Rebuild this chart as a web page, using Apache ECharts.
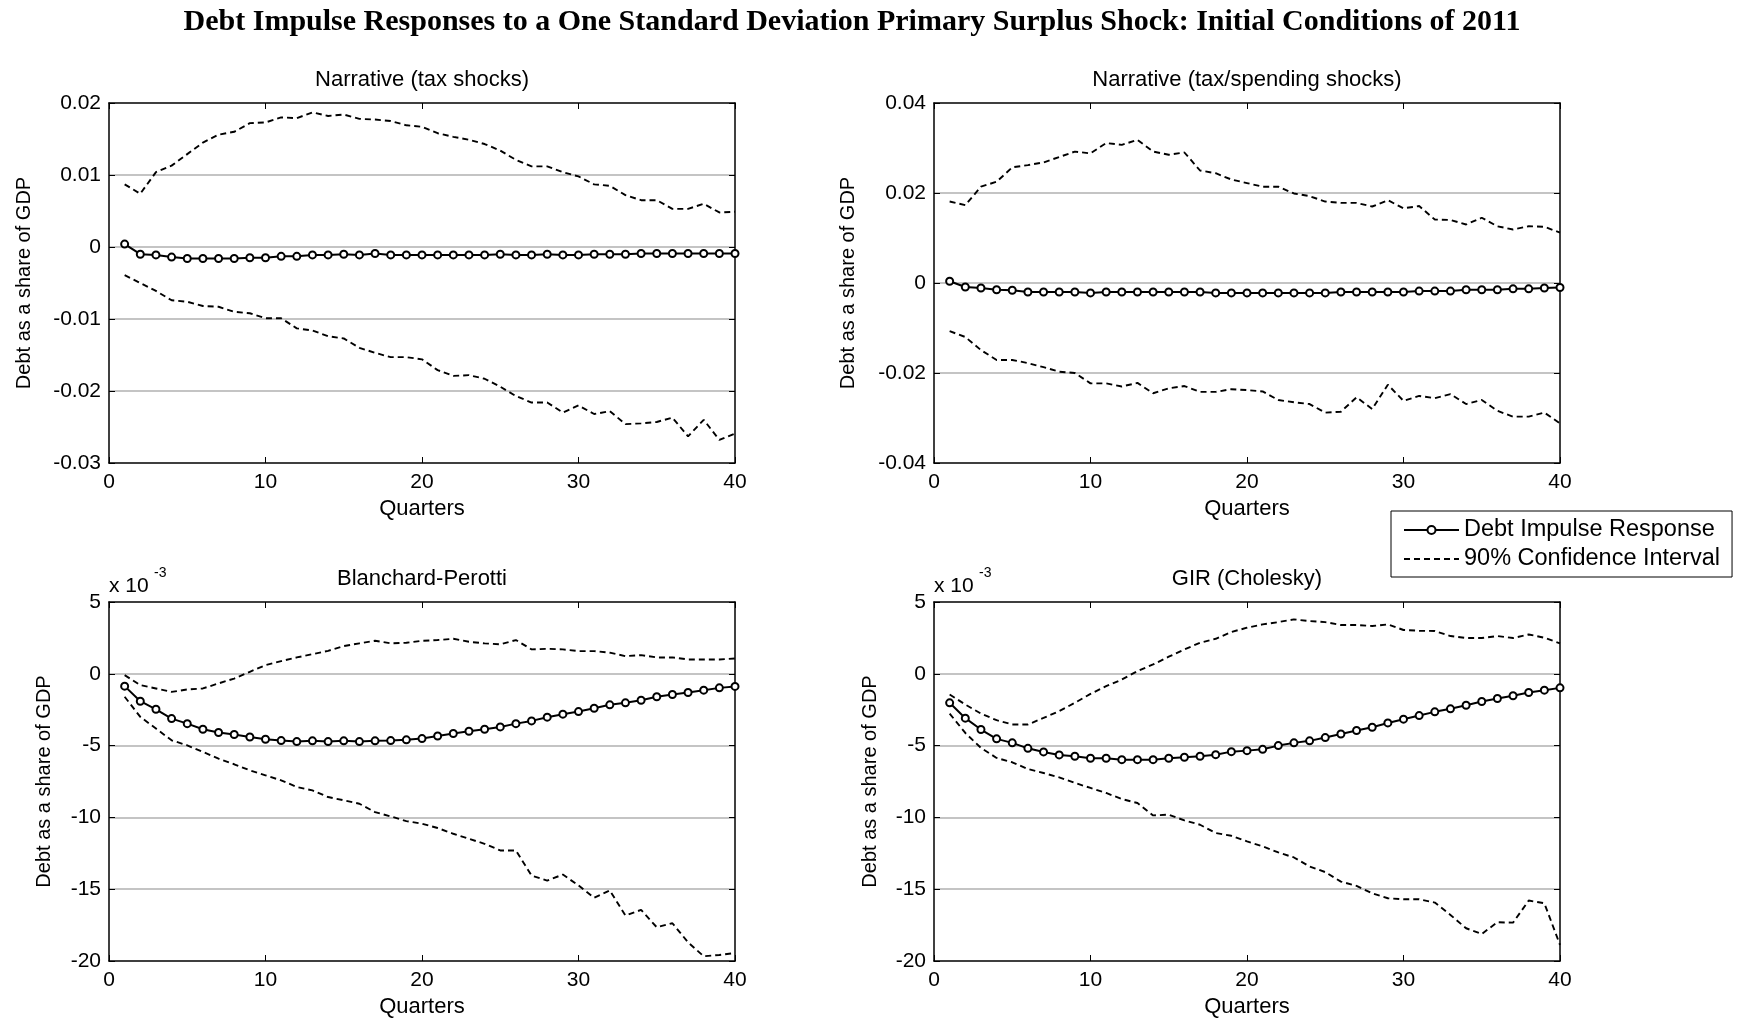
<!DOCTYPE html>
<html>
<head>
<meta charset="utf-8">
<title>Debt Impulse Responses</title>
<script src="https://cdn.jsdelivr.net/npm/echarts@6/dist/echarts.min.js"></script>
<style>
  html, body { margin: 0; padding: 0; background: #fff; }
  #chart { width: 1737px; height: 1019px; }
</style>
</head>
<body>
<div id="chart"></div>
<script>
// quarters after the shock
const quarters = [1, 2, 3, 4, 5, 6, 7, 8, 9, 10, 11, 12, 13, 14, 15, 16, 17, 18, 19, 20,
  21, 22, 23, 24, 25, 26, 27, 28, 29, 30, 31, 32, 33, 34, 35, 36, 37, 38, 39, 40]

// Narrative (tax shocks)
const p1Irf = [0.0004, -0.0010, -0.0011, -0.0014, -0.0016, -0.0016, -0.0016, -0.0016, -0.0015, -0.0015,
  -0.0013, -0.0013, -0.0011, -0.0011, -0.0010, -0.0011, -0.0009, -0.0011, -0.0011, -0.0011,
  -0.0011, -0.0011, -0.0011, -0.0011, -0.0010, -0.0011, -0.0011, -0.0010, -0.0011, -0.0011,
  -0.0010, -0.0010, -0.0010, -0.0009, -0.0009, -0.0009, -0.0009, -0.0009, -0.0009, -0.0009]
const p1Up = [0.0087, 0.0074, 0.0104, 0.0113, 0.0129, 0.0145, 0.0156, 0.0160, 0.0172, 0.0173,
  0.0180, 0.0179, 0.0187, 0.0182, 0.0184, 0.0178, 0.0177, 0.0175, 0.0169, 0.0167,
  0.0158, 0.0153, 0.0149, 0.0143, 0.0134, 0.0121, 0.0112, 0.0112, 0.0104, 0.0098,
  0.0087, 0.0085, 0.0072, 0.0065, 0.0065, 0.0053, 0.0053, 0.0060, 0.0048, 0.0049]
const p1Lo = [-0.0039, -0.0050, -0.0061, -0.0074, -0.0076, -0.0082, -0.0083, -0.0090, -0.0092, -0.0099,
  -0.0099, -0.0113, -0.0116, -0.0124, -0.0127, -0.0140, -0.0147, -0.0153, -0.0153, -0.0156,
  -0.0171, -0.0179, -0.0178, -0.0183, -0.0194, -0.0207, -0.0216, -0.0216, -0.0230, -0.0220,
  -0.0232, -0.0228, -0.0246, -0.0245, -0.0243, -0.0237, -0.0263, -0.0240, -0.0268, -0.0259]

// Narrative (tax/spending shocks)
const p2Irf = [0.0004, -0.0009, -0.0011, -0.0015, -0.0016, -0.0020, -0.0020, -0.0020, -0.0020, -0.0022,
  -0.0020, -0.0020, -0.0020, -0.0020, -0.0020, -0.0020, -0.0020, -0.0022, -0.0022, -0.0022,
  -0.0022, -0.0022, -0.0022, -0.0022, -0.0022, -0.0020, -0.0020, -0.0020, -0.0020, -0.0020,
  -0.0018, -0.0018, -0.0018, -0.0015, -0.0015, -0.0015, -0.0013, -0.0013, -0.0011, -0.0010]
const p2Up = [0.0181, 0.0173, 0.0214, 0.0225, 0.0257, 0.0262, 0.0268, 0.0280, 0.0292, 0.0288,
  0.0311, 0.0307, 0.0318, 0.0292, 0.0285, 0.0290, 0.0250, 0.0244, 0.0230, 0.0222,
  0.0214, 0.0214, 0.0199, 0.0193, 0.0181, 0.0178, 0.0178, 0.0170, 0.0184, 0.0166,
  0.0171, 0.0141, 0.0140, 0.0130, 0.0145, 0.0126, 0.0119, 0.0126, 0.0125, 0.0112]
const p2Lo = [-0.0107, -0.0120, -0.0149, -0.0171, -0.0171, -0.0178, -0.0187, -0.0197, -0.0200, -0.0223,
  -0.0223, -0.0230, -0.0222, -0.0245, -0.0234, -0.0229, -0.0242, -0.0242, -0.0236, -0.0238,
  -0.0241, -0.0260, -0.0265, -0.0269, -0.0288, -0.0286, -0.0254, -0.0280, -0.0226, -0.0262,
  -0.0251, -0.0256, -0.0247, -0.0269, -0.0260, -0.0284, -0.0297, -0.0297, -0.0288, -0.0312]

// Blanchard-Perotti (x 10^-3)
const p3Irf = [-0.86, -1.91, -2.47, -3.12, -3.47, -3.86, -4.09, -4.23, -4.40, -4.56,
  -4.65, -4.72, -4.67, -4.72, -4.67, -4.72, -4.67, -4.65, -4.60, -4.51,
  -4.33, -4.16, -4.00, -3.86, -3.70, -3.47, -3.28, -3.02, -2.81, -2.63,
  -2.40, -2.16, -2.02, -1.84, -1.60, -1.44, -1.30, -1.14, -0.98, -0.88]
const p3Up = [-0.09, -0.79, -1.02, -1.26, -1.09, -1.02, -0.67, -0.33, 0.14, 0.60,
  0.88, 1.14, 1.37, 1.60, 1.93, 2.12, 2.30, 2.12, 2.16, 2.30,
  2.35, 2.44, 2.23, 2.12, 2.05, 2.35, 1.70, 1.74, 1.70, 1.58,
  1.58, 1.47, 1.23, 1.30, 1.14, 1.14, 1.00, 1.00, 1.00, 1.07]
const p3Lo = [-1.60, -3.00, -3.81, -4.63, -4.98, -5.44, -5.91, -6.30, -6.72, -7.07,
  -7.42, -7.88, -8.12, -8.58, -8.81, -9.05, -9.63, -9.93, -10.26, -10.44,
  -10.74, -11.14, -11.49, -11.84, -12.30, -12.30, -14.05, -14.40, -13.98, -14.74,
  -15.60, -15.09, -16.84, -16.44, -17.65, -17.37, -18.70, -19.67, -19.58, -19.44]

// GIR (Cholesky) (x 10^-3)
const p4Irf = [-2.02, -3.09, -3.88, -4.53, -4.81, -5.19, -5.44, -5.65, -5.74, -5.88,
  -5.88, -5.98, -5.98, -5.98, -5.88, -5.81, -5.74, -5.63, -5.42, -5.35,
  -5.26, -5.00, -4.81, -4.67, -4.44, -4.19, -3.95, -3.72, -3.42, -3.16,
  -2.91, -2.65, -2.44, -2.19, -1.93, -1.72, -1.53, -1.30, -1.14, -0.98]
const p4Up = [-1.44, -2.14, -2.77, -3.23, -3.53, -3.53, -3.07, -2.60, -2.02, -1.40,
  -0.86, -0.40, 0.19, 0.65, 1.19, 1.70, 2.16, 2.44, 2.91, 3.21,
  3.44, 3.60, 3.79, 3.67, 3.60, 3.40, 3.40, 3.33, 3.44, 3.05,
  3.00, 2.98, 2.63, 2.49, 2.49, 2.63, 2.49, 2.74, 2.51, 2.12]
const p4Lo = [-2.77, -4.12, -5.16, -5.86, -6.16, -6.63, -6.91, -7.21, -7.60, -7.95,
  -8.30, -8.72, -9.00, -9.86, -9.81, -10.21, -10.51, -11.09, -11.28, -11.67,
  -12.02, -12.44, -12.79, -13.42, -13.81, -14.47, -14.77, -15.28, -15.63, -15.70,
  -15.70, -15.93, -16.79, -17.72, -18.12, -17.30, -17.33, -15.79, -15.98, -18.88]

const titles = ['Narrative (tax shocks)', 'Narrative (tax/spending shocks)', 'Blanchard-Perotti', 'GIR (Cholesky)']
const yRanges = [[-0.03, 0.02, 0.01], [-0.04, 0.04, 0.02], [-20, 5, 5], [-20, 5, 5]]
const irfs = [p1Irf, p2Irf, p3Irf, p4Irf]
const uppers = [p1Up, p2Up, p3Up, p4Up]
const lowers = [p1Lo, p2Lo, p3Lo, p4Lo]

const sans = 'Liberation Sans, Arial, sans-serif'
const serif = 'Liberation Serif, Times New Roman, serif'

// subplot boxes
const grids = [
  { left: 109, top: 103, width: 626, height: 360 },
  { left: 934, top: 103, width: 626, height: 360 },
  { left: 109, top: 602, width: 626, height: 359 },
  { left: 934, top: 602, width: 626, height: 359 }
]
const yNameGaps = [75, 76, 55, 54]

const xAxis = []
const yAxis = []
const series = []
const graphic = []

const fmt = v => String(Math.round(v * 1000) / 1000)

grids.forEach((g, i) => {
  const [ymin, ymax, step] = yRanges[i]
  // bottom axis with labels
  xAxis.push({
    type: 'value', gridIndex: i, position: 'bottom', min: 0, max: 40, interval: 10,
    name: 'Quarters', nameLocation: 'middle', nameGap: 35,
    nameTextStyle: { fontFamily: sans, fontSize: 22, color: '#000' },
    axisLine: { show: true, onZero: false, lineStyle: { color: '#000', width: 1.5 } },
    axisTick: { inside: true, length: 6, lineStyle: { color: '#000' } },
    axisLabel: { margin: 9, fontFamily: sans, fontSize: 21, color: '#000' },
    splitLine: { show: false }
  })
  // top axis: ticks only
  xAxis.push({
    type: 'value', gridIndex: i, position: 'top', min: 0, max: 40, interval: 10,
    axisLine: { show: true, onZero: false, lineStyle: { color: '#000', width: 1.5 } },
    axisTick: { inside: true, length: 6, lineStyle: { color: '#000' } },
    axisLabel: { show: false },
    splitLine: { show: false }
  })
  yAxis.push({
    type: 'value', gridIndex: i, position: 'left', min: ymin, max: ymax, interval: step,
    name: 'Debt as a share of GDP', nameLocation: 'middle', nameRotate: 90, nameGap: yNameGaps[i],
    nameTextStyle: { fontFamily: sans, fontSize: 20, color: '#000' },
    axisLine: { show: true, onZero: false, lineStyle: { color: '#000', width: 1.5 } },
    axisTick: { inside: true, length: 6, lineStyle: { color: '#000' } },
    axisLabel: { margin: 8, fontFamily: sans, fontSize: 21, color: '#000', formatter: fmt },
    splitLine: { show: true, showMinLine: false, showMaxLine: false, lineStyle: { color: '#c4c4c4', width: 2 } }
  })
  yAxis.push({
    type: 'value', gridIndex: i, position: 'right', min: ymin, max: ymax, interval: step,
    axisLine: { show: true, onZero: false, lineStyle: { color: '#000', width: 1.5 } },
    axisTick: { inside: true, length: 6, lineStyle: { color: '#000' } },
    axisLabel: { show: false },
    splitLine: { show: false }
  })

  const xi = i * 2
  const yi = i * 2
  series.push({
    name: '90% Confidence Interval', type: 'line', xAxisIndex: xi, yAxisIndex: yi,
    data: quarters.map((q, k) => [q, uppers[i][k]]),
    symbol: 'none', silent: true, color: '#000',
    lineStyle: { color: '#000', width: 1.9, type: [6, 4] }
  })
  series.push({
    name: '90% Confidence Interval', type: 'line', xAxisIndex: xi, yAxisIndex: yi,
    data: quarters.map((q, k) => [q, lowers[i][k]]),
    symbol: 'none', silent: true, color: '#000',
    lineStyle: { color: '#000', width: 1.9, type: [6, 4] }
  })
  series.push({
    name: 'Debt Impulse Response', type: 'line', xAxisIndex: xi, yAxisIndex: yi,
    data: quarters.map((q, k) => [q, irfs[i][k]]),
    symbol: 'emptyCircle', symbolSize: 7, silent: true, z: 3, color: '#000',
    lineStyle: { color: '#000', width: 2 },
    itemStyle: { color: '#000', borderColor: '#000', borderWidth: 1.6 }
  })

  // subplot title
  graphic.push({
    type: 'text', x: g.left + g.width / 2, y: g.top - 23,
    style: { text: titles[i], fontFamily: sans, fontSize: 22, fill: '#000', textAlign: 'center', textVerticalAlign: 'middle' }
  })
  // exponent label on the lower panels
  if (i >= 2) {
    graphic.push({
      type: 'text', x: g.left, y: g.top - 16,
      style: { text: 'x 10', fontFamily: sans, fontSize: 21, fill: '#000', textAlign: 'left', textVerticalAlign: 'middle' }
    })
    graphic.push({
      type: 'text', x: g.left + 45, y: g.top - 29,
      style: { text: '-3', fontFamily: sans, fontSize: 14, fill: '#000', textAlign: 'left', textVerticalAlign: 'middle' }
    })
  }
})

// main title
graphic.push({
  type: 'text', x: 852, y: 22,
  style: {
    text: 'Debt Impulse Responses to a One Standard Deviation Primary Surplus Shock: Initial Conditions of 2011',
    fontFamily: serif, fontSize: 30, fontWeight: 'bold', fill: '#000', textAlign: 'center', textVerticalAlign: 'middle'
  }
})

const chart = echarts.init(document.getElementById('chart'))
chart.setOption({
  backgroundColor: '#fff',
  animation: false,
  grid: grids,
  xAxis,
  yAxis,
  series,
  graphic,
  legend: {
    data: [
      { name: 'Debt Impulse Response' },
      { name: '90% Confidence Interval', itemStyle: { opacity: 0 } }
    ],
    orient: 'vertical', left: 1391, top: 511,
    backgroundColor: '#fff', borderColor: '#000', borderWidth: 1,
    padding: [7, 12, 6, 12], itemGap: 5, itemWidth: 55, itemHeight: 10,
    selectedMode: false,
    textStyle: { fontFamily: sans, fontSize: 23.5, color: '#000' }
  }
})
</script>
</body>
</html>
